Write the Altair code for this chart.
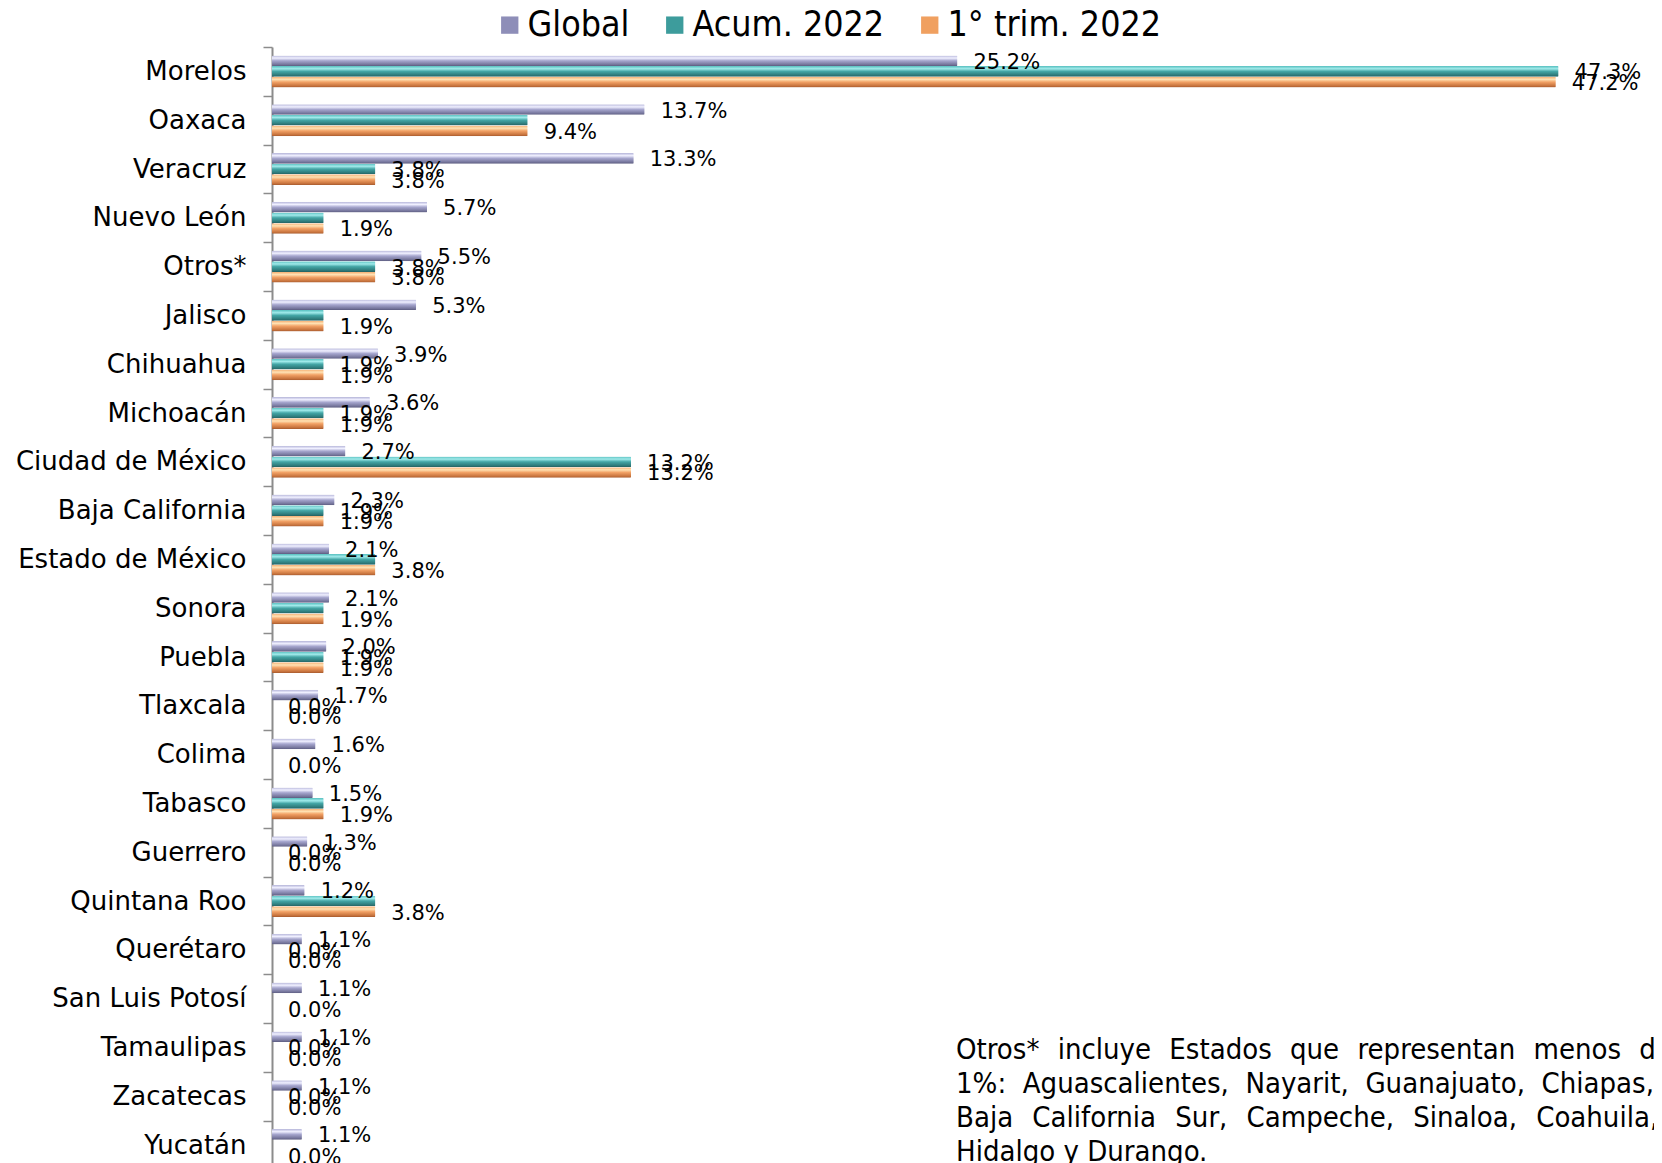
import altair as alt
import pandas as pd

categories = ["Morelos", "Oaxaca", "Veracruz", "Nuevo León", "Otros*", "Jalisco", "Chihuahua",
              "Michoacán", "Ciudad de México", "Baja California", "Estado de México", "Sonora",
              "Puebla", "Tlaxcala", "Colima", "Tabasco", "Guerrero", "Quintana Roo", "Querétaro",
              "San Luis Potosí", "Tamaulipas", "Zacatecas", "Yucatán"]
global_vals = [25.2, 13.7, 13.3, 5.7, 5.5, 5.3, 3.9, 3.6, 2.7, 2.3, 2.1, 2.1, 2.0, 1.7, 1.6, 1.5,
               1.3, 1.2, 1.1, 1.1, 1.1, 1.1, 1.1]
acum_vals = [47.3, 9.4, 3.8, 1.9, 3.8, 1.9, 1.9, 1.9, 13.2, 1.9, 3.8, 1.9, 1.9, 0.0, 0.0, 1.9,
             0.0, 3.8, 0.0, 0.0, 0.0, 0.0, 0.0]
trim_vals = [47.2, 9.4, 3.8, 1.9, 3.8, 1.9, 1.9, 1.9, 13.2, 1.9, 3.8, 1.9, 1.9, 0.0, 0.0, 1.9,
             0.0, 3.8, 0.0, 0.0, 0.0, 0.0, 0.0]
acum_label_shown = [True, False, True, False, True, False, True, True, True, True, False, False,
                    True, True, False, False, True, False, True, False, True, True, False]
series = ["Global", "Acum. 2022", "1° trim. 2022"]
legend_colors = ["#8e8eb8", "#3d9c9c", "#f0a060"]
note_lines = ["Otros* incluye Estados que representan menos del",
              "1%: Aguascalientes, Nayarit, Guanajuato, Chiapas,",
              "Baja California Sur, Campeche, Sinaloa, Coahuila,",
              "Hidalgo y Durango."]

rows = []
for i, c in enumerate(categories):
    rows.append({"category": c, "series": series[0], "value": global_vals[i], "show": True})
    rows.append({"category": c, "series": series[1], "value": acum_vals[i], "show": acum_label_shown[i]})
    rows.append({"category": c, "series": series[2], "value": trim_vals[i], "show": True})
df = pd.DataFrame(rows)


def grad(stops):
    return alt.Gradient(gradient="linear", x1=0, x2=0, y1=0, y2=1,
                        stops=[alt.GradientStop(offset=o, color=c) for o, c in stops])


gradients = [
    grad([(0, "#b4b4d8"), (0.25, "#f0f0ff"), (0.5, "#a6a6ce"), (0.85, "#76769c"), (1, "#5a5a7e")]),
    grad([(0, "#58c0c0"), (0.25, "#a0eaea"), (0.5, "#44a6a6"), (0.85, "#2e7a7a"), (1, "#246060")]),
    grad([(0, "#f4ac70"), (0.25, "#ffe2b4"), (0.5, "#f2a266"), (0.85, "#c8743e"), (1, "#a65a2e")]),
]

y_enc = alt.Y("category:N", sort=categories, title=None,
              scale=alt.Scale(domain=categories, paddingInner=0, paddingOuter=0, range=[0, 1122.4]),
              axis=alt.Axis(labelFont="DejaVu Sans", labelFontSize=26, labelColor="#000000",
                            labelPadding=17, tickSize=9, tickColor="#8c8c8c", tickWidth=1.5,
                            domainColor="#8c8c8c", domainWidth=2, tickBand="extent", grid=False,
                            labelLimit=400))
yoff_enc = alt.YOffset("series:N", sort=series,
                       scale=alt.Scale(domain=series, paddingInner=0, paddingOuter=0.7875))
x_enc = alt.X("value:Q", title=None, axis=None,
              scale=alt.Scale(domain=[0, 50], nice=False, zero=True))

base = alt.Chart(df)
layers = []
for s, g in zip(series, gradients):
    layers.append(
        base.transform_filter(alt.datum.series == s)
        .mark_bar(fill=g, cornerRadius=1)
        .encode(x=x_enc, y=y_enc, yOffset=yoff_enc)
    )

labels = (
    base.transform_filter(alt.datum.show)
    .transform_calculate(label="format(datum.value, '.1f') + '%'")
    .mark_text(align="left", baseline="middle", dx=16, dy=2, font="DejaVu Sans",
               fontSize=21, color="#000000")
    .encode(x=x_enc, y=y_enc, yOffset=yoff_enc, text="label:N")
)

legend_layer = (
    base.mark_square(opacity=0)
    .encode(x=x_enc, y=y_enc,
            color=alt.Color("series:N", sort=series,
                            scale=alt.Scale(domain=series, range=legend_colors),
                            legend=alt.Legend(title=None, orient="none", legendX=220, legendY=-40,
                                              direction="horizontal", symbolType="square",
                                              symbolSize=300, symbolOpacity=1, symbolStrokeWidth=0,
                                              labelFont="DejaVu Sans Condensed", labelFontSize=35.5,
                                              labelColor="#000000", labelOffset=0,
                                              columnPadding=27, padding=0, labelLimit=400)))
)

# approximate the justified paragraph: widen the gaps between words of the full lines
gaps = ["\u2002\u2009", " \u00a0", " \u00a0\u200a", " "]
note_text = "\n".join(line.replace(" ", gap) for line, gap in zip(note_lines, gaps))

note = (
    alt.Chart(pd.DataFrame({"note": [note_text]}))
    .mark_text(align="left", baseline="alphabetic", lineBreak="\n", lineHeight=34,
               font="DejaVu Sans Condensed", fontSize=29, color="#000000")
    .encode(x=alt.value(684), y=alt.value(1012), text="note:N")
)

chart = (
    alt.layer(*layers, labels, legend_layer, note)
    .properties(width=1360, height=1116, autosize="none",
                padding={"left": 264, "top": 39, "right": 22, "bottom": 0})
    .configure_view(stroke=None)
)

chart.save("out.html", embed_options={"renderer": "svg", "actions": False})
